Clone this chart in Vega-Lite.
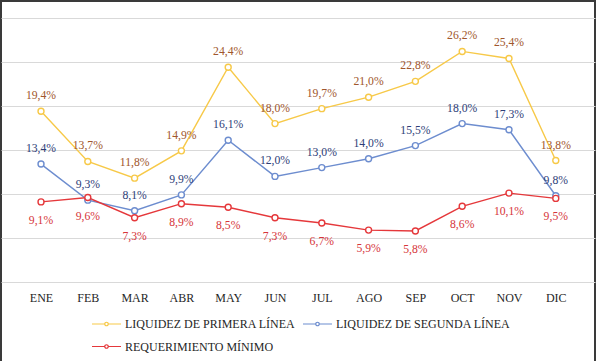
{
  "$schema": "https://vega.github.io/schema/vega-lite/v6.json",
  "width": 594,
  "height": 361,
  "autosize": {"type": "none"},
  "padding": {"left": 1, "top": 1, "right": 4, "bottom": 0},
  "background": "white",
  "config": {
    "view": {"stroke": "#3a3a3a", "strokeWidth": 2},
    "font": "'Liberation Serif', 'Times New Roman', 'DejaVu Serif', serif"
  },
  "data": {
    "values": [
      {"m": 1, "mes": "ENE", "s": "LIQUIDEZ DE PRIMERA LÍNEA", "v": 19.4},
      {"m": 2, "mes": "FEB", "s": "LIQUIDEZ DE PRIMERA LÍNEA", "v": 13.7},
      {"m": 3, "mes": "MAR", "s": "LIQUIDEZ DE PRIMERA LÍNEA", "v": 11.8},
      {"m": 4, "mes": "ABR", "s": "LIQUIDEZ DE PRIMERA LÍNEA", "v": 14.9},
      {"m": 5, "mes": "MAY", "s": "LIQUIDEZ DE PRIMERA LÍNEA", "v": 24.4},
      {"m": 6, "mes": "JUN", "s": "LIQUIDEZ DE PRIMERA LÍNEA", "v": 18.0},
      {"m": 7, "mes": "JUL", "s": "LIQUIDEZ DE PRIMERA LÍNEA", "v": 19.7},
      {"m": 8, "mes": "AGO", "s": "LIQUIDEZ DE PRIMERA LÍNEA", "v": 21.0},
      {"m": 9, "mes": "SEP", "s": "LIQUIDEZ DE PRIMERA LÍNEA", "v": 22.8},
      {"m": 10, "mes": "OCT", "s": "LIQUIDEZ DE PRIMERA LÍNEA", "v": 26.2},
      {"m": 11, "mes": "NOV", "s": "LIQUIDEZ DE PRIMERA LÍNEA", "v": 25.4},
      {"m": 12, "mes": "DIC", "s": "LIQUIDEZ DE PRIMERA LÍNEA", "v": 13.8},
      {"m": 1, "mes": "ENE", "s": "LIQUIDEZ DE SEGUNDA LÍNEA", "v": 13.4},
      {"m": 2, "mes": "FEB", "s": "LIQUIDEZ DE SEGUNDA LÍNEA", "v": 9.3},
      {"m": 3, "mes": "MAR", "s": "LIQUIDEZ DE SEGUNDA LÍNEA", "v": 8.1},
      {"m": 4, "mes": "ABR", "s": "LIQUIDEZ DE SEGUNDA LÍNEA", "v": 9.9},
      {"m": 5, "mes": "MAY", "s": "LIQUIDEZ DE SEGUNDA LÍNEA", "v": 16.1},
      {"m": 6, "mes": "JUN", "s": "LIQUIDEZ DE SEGUNDA LÍNEA", "v": 12.0},
      {"m": 7, "mes": "JUL", "s": "LIQUIDEZ DE SEGUNDA LÍNEA", "v": 13.0},
      {"m": 8, "mes": "AGO", "s": "LIQUIDEZ DE SEGUNDA LÍNEA", "v": 14.0},
      {"m": 9, "mes": "SEP", "s": "LIQUIDEZ DE SEGUNDA LÍNEA", "v": 15.5},
      {"m": 10, "mes": "OCT", "s": "LIQUIDEZ DE SEGUNDA LÍNEA", "v": 18.0},
      {"m": 11, "mes": "NOV", "s": "LIQUIDEZ DE SEGUNDA LÍNEA", "v": 17.3},
      {"m": 12, "mes": "DIC", "s": "LIQUIDEZ DE SEGUNDA LÍNEA", "v": 9.8},
      {"m": 1, "mes": "ENE", "s": "REQUERIMIENTO MÍNIMO", "v": 9.1},
      {"m": 2, "mes": "FEB", "s": "REQUERIMIENTO MÍNIMO", "v": 9.6},
      {"m": 3, "mes": "MAR", "s": "REQUERIMIENTO MÍNIMO", "v": 7.3},
      {"m": 4, "mes": "ABR", "s": "REQUERIMIENTO MÍNIMO", "v": 8.9},
      {"m": 5, "mes": "MAY", "s": "REQUERIMIENTO MÍNIMO", "v": 8.5},
      {"m": 6, "mes": "JUN", "s": "REQUERIMIENTO MÍNIMO", "v": 7.3},
      {"m": 7, "mes": "JUL", "s": "REQUERIMIENTO MÍNIMO", "v": 6.7},
      {"m": 8, "mes": "AGO", "s": "REQUERIMIENTO MÍNIMO", "v": 5.9},
      {"m": 9, "mes": "SEP", "s": "REQUERIMIENTO MÍNIMO", "v": 5.8},
      {"m": 10, "mes": "OCT", "s": "REQUERIMIENTO MÍNIMO", "v": 8.6},
      {"m": 11, "mes": "NOV", "s": "REQUERIMIENTO MÍNIMO", "v": 10.1},
      {"m": 12, "mes": "DIC", "s": "REQUERIMIENTO MÍNIMO", "v": 9.5}
    ]
  },
  "encoding": {
    "x": {
      "field": "m",
      "type": "quantitative",
      "scale": {"domain": [0.145, 12.838], "nice": false, "zero": false},
      "axis": {
        "orient": "bottom",
        "offset": -61,
        "values": [1, 2, 3, 4, 5, 6, 7, 8, 9, 10, 11, 12],
        "labelExpr": "['ENE','FEB','MAR','ABR','MAY','JUN','JUL','AGO','SEP','OCT','NOV','DIC'][datum.value - 1]",
        "domain": false,
        "ticks": false,
        "grid": false,
        "labelPadding": 0,
        "labelBaseline": "alphabetic",
        "labelFont": "'Liberation Serif', 'Times New Roman', 'DejaVu Serif', serif",
        "labelFontSize": 12,
        "labelColor": "#262626",
        "labelFlush": false,
        "labelOverlap": false,
        "title": null
      }
    },
    "y": {
      "field": "v",
      "type": "quantitative",
      "scale": {"domain": [-9.09, 31.93], "nice": false, "zero": false},
      "axis": {
        "values": [0, 5, 10, 15, 20, 25, 30],
        "grid": true,
        "gridColor": "#d9d9d9",
        "gridWidth": 1,
        "labels": false,
        "domain": false,
        "ticks": false,
        "title": null
      }
    }
  },
  "layer": [
    {
      "mark": {
        "type": "line",
        "strokeWidth": 1.4,
        "point": {"filled": false, "fill": "white", "size": 36, "strokeWidth": 1.4}
      },
      "encoding": {
        "color": {
          "field": "s",
          "type": "nominal",
          "scale": {
            "domain": ["LIQUIDEZ DE PRIMERA LÍNEA", "LIQUIDEZ DE SEGUNDA LÍNEA", "REQUERIMIENTO MÍNIMO"],
            "range": ["#F7C948", "#6D8DCF", "#E5383B"]
          },
          "legend": {
            "title": null,
            "orient": "none",
            "legendX": 99.5,
            "legendY": 317,
            "direction": "horizontal",
            "columns": 2,
            "padding": 0,
            "columnPadding": 5,
            "rowPadding": 10.5,
            "labelOffset": 12.5,
            "symbolType": "M-2.9,0H-0.35A0.35,0.35 0 1,1 0.35,0A0.35,0.35 0 1,1 -0.35,0M0.35,0H2.9",
            "symbolSize": 100,
            "symbolStrokeWidth": 1.2,
            "symbolFillColor": "white",
            "labelFont": "'Liberation Serif', 'Times New Roman', 'DejaVu Serif', serif",
            "labelFontSize": 12,
            "labelColor": "#262626",
            "labelLimit": 300
          }
        }
      }
    },
    {
      "transform": [
        {"filter": "datum.s != 'REQUERIMIENTO MÍNIMO'"},
        {"calculate": "replace(format(datum.v, '.1f'), '.', ',') + '%'", "as": "lab"}
      ],
      "mark": {"type": "text", "dy": -16, "baseline": "middle", "align": "center", "font": "'Liberation Serif', 'Times New Roman', 'DejaVu Serif', serif", "fontSize": 11.7},
      "encoding": {
        "text": {"field": "lab", "type": "nominal"},
        "color": {
          "condition": {"test": "datum.s == 'LIQUIDEZ DE PRIMERA LÍNEA'", "value": "#A0562C"},
          "value": "#2E3E78"
        }
      }
    },
    {
      "transform": [
        {"filter": "datum.s == 'REQUERIMIENTO MÍNIMO'"},
        {"calculate": "replace(format(datum.v, '.1f'), '.', ',') + '%'", "as": "lab"}
      ],
      "mark": {"type": "text", "dy": 18, "baseline": "middle", "align": "center", "font": "'Liberation Serif', 'Times New Roman', 'DejaVu Serif', serif", "fontSize": 11.7, "color": "#D6353A"},
      "encoding": {
        "text": {"field": "lab", "type": "nominal"}
      }
    }
  ]
}
